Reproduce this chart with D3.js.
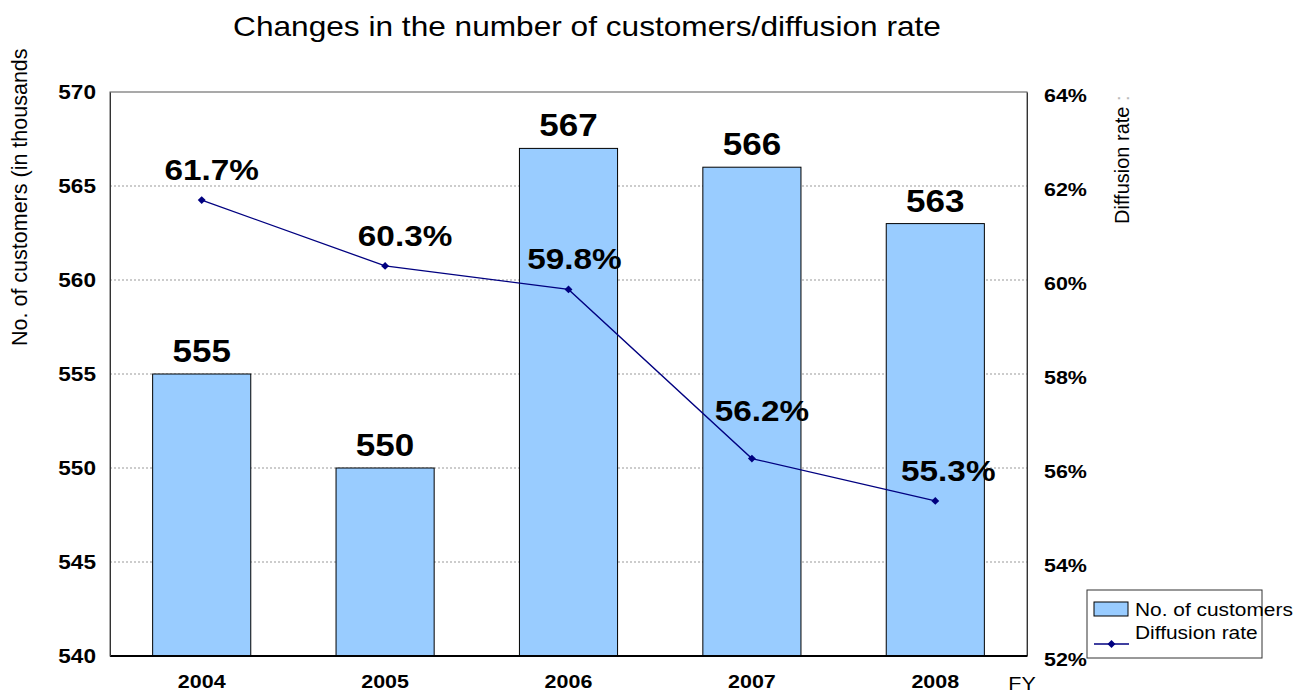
<!DOCTYPE html>
<html>
<head>
<meta charset="utf-8">
<script src="https://cdn.jsdelivr.net/npm/d3@7"></script>
<style>
  html, body { margin: 0; padding: 0; background: #fff; }
  svg { display: block; font-family: "Liberation Sans", Arial, sans-serif; }
</style>
</head>
<body>
<svg id="chart" width="1294" height="695"></svg>
<script>
// Fiscal years, customer counts (thousands) and diffusion rate (%)
const years = ["2004", "2005", "2006", "2007", "2008"];
const customers = [555, 550, 567, 566, 563];
const diffusion = [61.7, 60.3, 59.8, 56.2, 55.3];
const leftTicks = [540, 545, 550, 555, 560, 565, 570];
const rightTicks = [52, 54, 56, 58, 60, 62, 64];

const svg = d3.select("#chart");
const plot = { left: 110, right: 1027, top: 92, bottom: 656 };
const SX = 1.13; // horizontal widening of the typeface

// widen horizontal text about its own x anchor
function widen(sel) {
  sel.each(function () {
    const t = d3.select(this);
    const xx = +t.attr("x") || 0;
    t.attr("transform", `translate(${xx},0) scale(${SX},1) translate(${-xx},0)`);
  });
  return sel;
}

const x = d3.scaleBand().domain(years)
  .range([plot.left, plot.right]).paddingInner(0.465).paddingOuter(0.2325);
const yL = d3.scaleLinear().domain([540, 570]).range([plot.bottom, plot.top]);
const yR = d3.scaleLinear().domain([52, 64]).range([plot.bottom, plot.top]);

// Title
svg.append("text")
  .attr("x", 587).attr("y", 36)
  .attr("text-anchor", "middle")
  .attr("font-size", 28)
  .text("Changes in the number of customers/diffusion rate")
  .call(widen);

// Horizontal dashed gridlines
svg.append("g").selectAll("line")
  .data(leftTicks.slice(1, -1))
  .join("line")
  .attr("x1", plot.left).attr("x2", plot.right)
  .attr("y1", d => yL(d)).attr("y2", d => yL(d))
  .attr("stroke", "#999").attr("stroke-width", 1)
  .attr("stroke-dasharray", "2,2");

// Bars
svg.append("g").selectAll("rect")
  .data(years)
  .join("rect")
  .attr("x", d => x(d))
  .attr("width", x.bandwidth())
  .attr("y", (d, i) => yL(customers[i]))
  .attr("height", (d, i) => yL(540) - yL(customers[i]))
  .attr("fill", "#99CCFF")
  .attr("stroke", "#000").attr("stroke-width", 1);

// Plot frame
svg.append("rect")
  .attr("x", plot.left).attr("y", plot.top)
  .attr("width", plot.right - plot.left).attr("height", plot.bottom - plot.top)
  .attr("fill", "none").attr("stroke", "#555").attr("stroke-width", 1);
svg.append("line")
  .attr("x1", plot.left).attr("x2", plot.right)
  .attr("y1", plot.bottom).attr("y2", plot.bottom)
  .attr("stroke", "#000").attr("stroke-width", 2);

// Left axis
const axL = svg.append("g")
  .attr("transform", `translate(${plot.left},0)`)
  .call(d3.axisLeft(yL).tickValues(leftTicks).tickSize(0).tickPadding(14));
axL.select(".domain").attr("stroke", "#333");
axL.selectAll("text")
  .attr("font-family", "Liberation Sans, Arial, sans-serif")
  .attr("font-size", 20).attr("font-weight", "bold").attr("fill", "#000")
  .call(widen);

// Right axis
const axR = svg.append("g")
  .attr("transform", `translate(${plot.right},0)`)
  .call(d3.axisRight(yR).tickValues(rightTicks).tickSize(0).tickPadding(17)
    .tickFormat(d => d + "%"));
axR.select(".domain").attr("stroke", "#333");
axR.selectAll("text")
  .attr("font-family", "Liberation Sans, Arial, sans-serif")
  .attr("font-size", 19).attr("font-weight", "bold").attr("fill", "#000")
  .attr("dy", "0.5em")
  .call(widen);

// Bottom axis labels
const axB = svg.append("g")
  .attr("transform", `translate(0,${plot.bottom})`)
  .call(d3.axisBottom(x).tickSize(0).tickPadding(19));
axB.select(".domain").remove();
axB.selectAll("text")
  .attr("font-family", "Liberation Sans, Arial, sans-serif")
  .attr("font-size", 19).attr("font-weight", "bold").attr("fill", "#000")
  .call(widen);

svg.append("text")
  .attr("x", 1022).attr("y", 690)
  .attr("text-anchor", "middle").attr("font-size", 19)
  .text("FY")
  .call(widen);

// Axis titles
svg.append("text")
  .attr("transform", "translate(27,346) rotate(-90)")
  .attr("font-size", 21.5)
  .text("No. of customers (in thousands");
const rt = svg.append("text")
  .attr("transform", "translate(1129,224) rotate(-90)")
  .attr("font-size", 20);
rt.append("tspan").text("Diffusion rate");
rt.append("tspan").attr("fill", "#bbb").text(" :");

// Bar value labels
svg.append("g").selectAll("text")
  .data(years)
  .join("text")
  .attr("x", d => x(d) + x.bandwidth() / 2)
  .attr("y", (d, i) => yL(customers[i]) - 12)
  .attr("text-anchor", "middle")
  .attr("font-size", 31).attr("font-weight", "bold")
  .text((d, i) => customers[i])
  .call(widen);

// Diffusion rate line
const cx = d => x(d) + x.bandwidth() / 2;
const line = d3.line().x(d => cx(d[0])).y(d => yR(d[1]));
const pts = years.map((d, i) => [d, diffusion[i]]);
svg.append("path")
  .datum(pts)
  .attr("d", line)
  .attr("fill", "none").attr("stroke", "#000080").attr("stroke-width", 1.3);
svg.append("g").selectAll("path")
  .data(pts)
  .join("path")
  .attr("transform", d => `translate(${cx(d[0])},${yR(d[1])})`)
  .attr("d", d3.symbol(d3.symbolDiamond2, 40))
  .attr("fill", "#000080");

// Rate labels (nudged to sit clear of the line)
const rateNudge = [[10, -20], [20, -20], [6, -20], [10, -38], [13, -20]];
svg.append("g").selectAll("text")
  .data(pts)
  .join("text")
  .attr("x", (d, i) => cx(d[0]) + rateNudge[i][0])
  .attr("y", (d, i) => yR(d[1]) + rateNudge[i][1])
  .attr("text-anchor", "middle")
  .attr("font-size", 29.5).attr("font-weight", "bold")
  .text(d => d[1].toFixed(1) + "%")
  .call(widen);

// Legend
const lg = svg.append("g").attr("transform", "translate(1087,590)");
lg.append("rect").attr("width", 175).attr("height", 68)
  .attr("fill", "#fff").attr("stroke", "#333").attr("stroke-width", 1);
lg.append("rect").attr("x", 7).attr("y", 12).attr("width", 34).attr("height", 14)
  .attr("fill", "#99CCFF").attr("stroke", "#000");
lg.append("text").attr("x", 48).attr("y", 26).attr("font-size", 18.5)
  .text("No. of customers").call(widen);
lg.append("line").attr("x1", 7).attr("x2", 42).attr("y1", 54).attr("y2", 54)
  .attr("stroke", "#000080").attr("stroke-width", 1.3);
lg.append("path").attr("transform", "translate(24.5,54)")
  .attr("d", d3.symbol(d3.symbolDiamond2, 40)).attr("fill", "#000080");
lg.append("text").attr("x", 48).attr("y", 49).attr("font-size", 18.5)
  .text("Diffusion rate").call(widen);
</script>
</body>
</html>
